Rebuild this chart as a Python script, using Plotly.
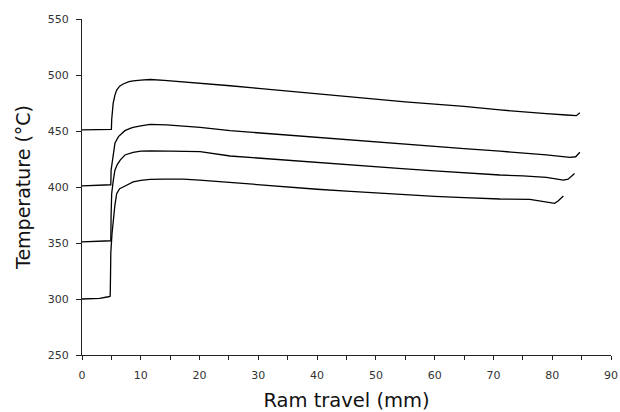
import plotly.graph_objects as go

# Ram travel (mm) and temperature (°C) readings for each curve
x_450 = [0, 3, 5.0, 5.05, 5.3, 5.6, 5.9, 6.4, 7.0, 8.0, 8.7, 10, 11.6, 14, 17.2, 20, 25.2, 30, 35, 40, 45, 49, 55, 60, 65, 71.1, 75, 79, 82.4, 84.1, 84.7]
y_450 = [451, 451, 451.5, 460, 474.7, 482, 486.6, 490, 492, 494, 494.8, 495.5, 496, 495.2, 494, 493, 490.4, 488, 485.5, 483, 480.5, 478.5, 476, 474, 472, 468.8, 467, 465.5, 464.3, 463.7, 466.3]

x_400 = [0, 3, 4.9, 4.95, 5.2, 5.6, 6.2, 6.5, 7.3, 8.2, 8.7, 10, 11.6, 14.4, 17, 20.1, 25.2, 30, 35, 40, 45, 49, 55, 60, 65, 71.1, 75, 79, 83, 84, 84.7]
y_400 = [401, 401.5, 402, 415, 424, 439, 445, 446.4, 450.3, 452.4, 453.3, 454.5, 456, 455.4, 454.5, 453.3, 450.3, 448.3, 446.2, 444.3, 442.2, 440.5, 438.3, 436.3, 434.3, 432, 430.5, 428.6, 426.4, 427, 431]

x_350 = [0, 3, 4.9, 4.95, 5.05, 5.3, 5.6, 6.0, 6.5, 7.3, 8.2, 8.7, 10, 11.6, 15, 20.1, 25.2, 30, 35, 40, 45, 49, 55, 60, 65, 71.1, 75, 79, 81.9, 82.7, 83.8]
y_350 = [351, 351.5, 352, 375, 394, 405, 415, 420, 424, 428.6, 430, 431, 432, 432.3, 432, 431.5, 427.7, 425.8, 423.8, 421.8, 419.8, 418, 416.2, 414.4, 412.7, 410.7, 410, 408.6, 406.2, 407, 412]

x_300 = [0, 3, 4.5, 4.8, 4.85, 4.9, 5.1, 5.3, 5.6, 5.9, 6.4, 7.0, 7.6, 8.7, 10, 11.6, 14, 17.2, 20, 25.2, 30, 35, 40, 45, 49, 55, 60, 65, 71.1, 76.2, 80.4, 81, 81.9]
y_300 = [300, 300.5, 302, 302.5, 320, 341, 358, 370.5, 384, 394, 398.5, 400, 401.5, 404.5, 406, 406.8, 407, 407, 406.2, 403.9, 402, 400, 398, 396.3, 395, 393.2, 391.7, 390.5, 389.3, 389, 385.4, 387.5, 392]

x_ticks = [0, 10, 20, 30, 40, 50, 60, 70, 80, 90]
y_ticks = [250, 300, 350, 400, 450, 500, 550]

fig = go.Figure()
for xs, ys in [(x_450, y_450), (x_400, y_400), (x_350, y_350), (x_300, y_300)]:
    fig.add_trace(go.Scatter(x=xs, y=ys, mode="lines",
                             line=dict(color="black", width=1.3),
                             showlegend=False, hoverinfo="skip"))

axis_font = dict(family="DejaVu Sans", size=11, color="#333")
fig.update_layout(
    width=620, height=412,
    margin=dict(l=82, r=9, t=19, b=57),
    paper_bgcolor="white", plot_bgcolor="white",
    font=dict(family="DejaVu Sans", color="#111"),
    xaxis=dict(range=[0, 90], tickvals=x_ticks, ticktext=[str(v) for v in x_ticks],
               showgrid=False, zeroline=False, showline=True, linecolor="#222", linewidth=1,
               ticks="outside", ticklen=4, tickcolor="#222", tickfont=axis_font,
               ticklabelstandoff=6, ticklabeloverflow="allow",
               minor=dict(tickvals=[5, 15, 25, 35, 45, 55, 65, 75, 85], ticks="outside", ticklen=4, tickcolor="#222"),
               title=dict(text="Ram travel (mm)", font=dict(size=19.5, family="DejaVu Sans", color="#111"), standoff=12),
               automargin=False),
    yaxis=dict(range=[250, 550], tickvals=y_ticks, ticktext=[str(v) for v in y_ticks],
               showgrid=False, zeroline=False, showline=True, linecolor="#222", linewidth=1,
               ticks="outside", ticklen=5, tickcolor="#222", tickfont=axis_font,
               ticklabelstandoff=5,
               title=dict(text="Temperature (°C)", font=dict(size=19, family="DejaVu Sans", color="#111"), standoff=12),
               automargin=False),
)

fig.write_html("out.html", config={"displayModeBar": False},
               post_script="document.body.style.margin='0';document.body.style.overflow='hidden';")
